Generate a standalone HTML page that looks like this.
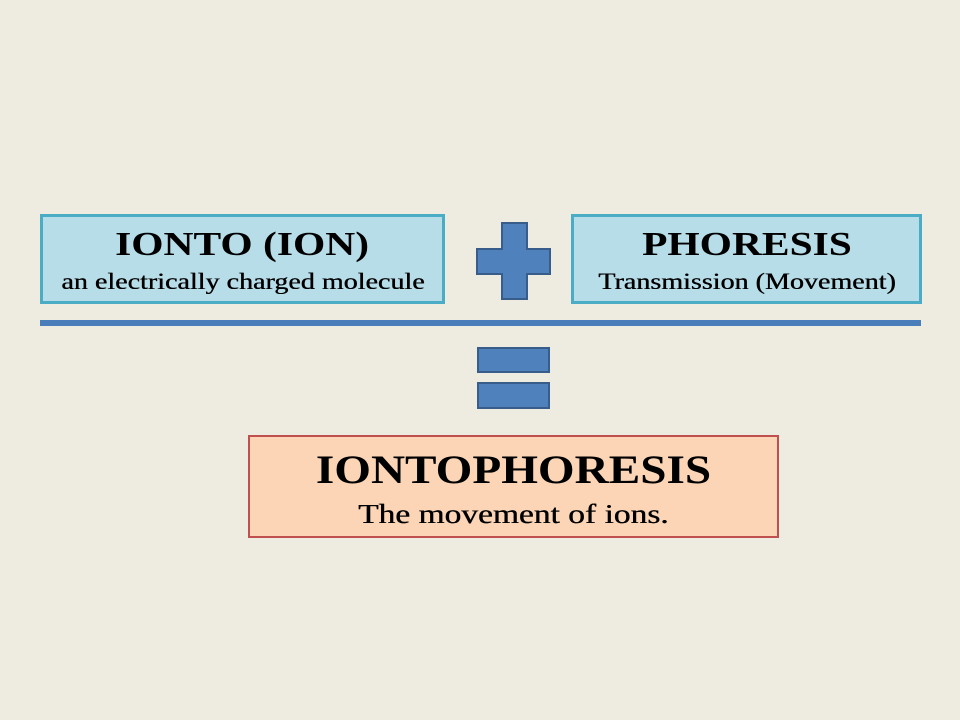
<!DOCTYPE html>
<html><head><style>
body{margin:0;width:960px;height:720px;background:#eeebe0;position:relative;overflow:hidden;font-family:"Liberation Serif",serif;color:#000}
.b{position:absolute;box-sizing:border-box;text-align:center}
.t{font-weight:bold;font-size:34px;line-height:40px}
.s{font-size:23px;line-height:28px;margin-top:3px;text-shadow:0.4px 0 0 #000}
.x{display:inline-block;transform:scaleX(1.22);white-space:nowrap}
.sh{position:absolute;background:#4f81bd;border:2px solid #385d8a;box-sizing:border-box}
</style></head><body>
<div class="b" style="left:40px;top:214px;width:405px;height:90px;background:#b7dde8;border:3px solid #4bacc6;padding-top:8px">
<div class="t"><span class="x">IONTO (ION)</span></div><div class="s"><span class="x">an electrically charged molecule</span></div></div>
<div class="b" style="left:571px;top:214px;width:351px;height:90px;background:#b7dde8;border:3px solid #4bacc6;padding-top:8px">
<div class="t"><span class="x">PHORESIS</span></div><div class="s"><span class="x">Transmission (Movement)</span></div></div>
<svg style="position:absolute;left:0;top:0" width="960" height="720">
<polygon points="502,223 527,223 527,249 550,249 550,274 527,274 527,299 502,299 502,274 477,274 477,249 502,249" fill="#4f81bd" stroke="#385d8a" stroke-width="2"/>
</svg>
<div style="position:absolute;left:40px;top:320px;width:881px;height:6px;background:#4a7ebb"></div>
<div class="sh" style="left:477px;top:347px;width:73px;height:26px"></div>
<div class="sh" style="left:477px;top:382px;width:73px;height:27px"></div>
<div class="b" style="left:248px;top:435px;width:531px;height:103px;background:#fbd5b5;border:2px solid #c0504d;padding-top:10px">
<div class="t" style="font-size:40px;line-height:46px"><span class="x" style="transform:scaleX(1.18)">IONTOPHORESIS</span></div><div class="s" style="font-size:27px;line-height:34px;margin-top:4px"><span class="x" style="transform:scaleX(1.24)">The movement of ions.</span></div></div>
</body></html>
